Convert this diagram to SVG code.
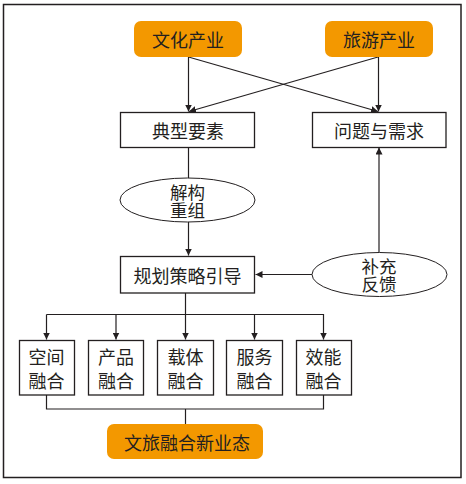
<svg xmlns="http://www.w3.org/2000/svg" width="466" height="484" viewBox="0 0 466 484">
<defs>
<style>
.frame{fill:#fff;stroke:#231f20;stroke-width:1.5}
.org{fill:#f39800;stroke:none}
.box{fill:#fff;stroke:#231f20;stroke-width:1.3}
.ell{fill:#fff;stroke:#231f20;stroke-width:1}
.t{font-family:"Noto Sans CJK SC","Noto Sans",sans-serif;font-size:18px;fill:#231f20;text-anchor:middle;dominant-baseline:central}
.te{font-size:17.5px}
.ln{fill:none;stroke:#231f20;stroke-width:1.2}
</style>
<marker id="ah" viewBox="0 0 10 10" refX="10" refY="5" markerWidth="7" markerHeight="7" markerUnits="userSpaceOnUse" orient="auto">
<path d="M0,0 L10,5 L0,10 z" fill="#231f20"/>
</marker>
</defs>
<rect x="0" y="0" width="466" height="484" fill="#fff"/>
<rect class="frame" x="3.5" y="4.5" width="457.5" height="473"/>
<g id="connectors">
<line class="ln" x1="188.5" y1="57" x2="188.5" y2="111.5" marker-end="url(#ah)"/>
<line class="ln" x1="188.5" y1="57" x2="378" y2="111.5" marker-end="url(#ah)"/>
<line class="ln" x1="378.5" y1="57" x2="378.5" y2="111.5" marker-end="url(#ah)"/>
<line class="ln" x1="378" y1="57" x2="189" y2="111.5" marker-end="url(#ah)"/>
<line class="ln" x1="188.5" y1="147" x2="188.5" y2="178"/>
<line class="ln" x1="188.5" y1="222" x2="188.5" y2="255.5" marker-end="url(#ah)"/>
<line class="ln" x1="312" y1="274.5" x2="255.5" y2="274.5" marker-end="url(#ah)"/>
<line class="ln" x1="379" y1="252.5" x2="379" y2="147.5" marker-end="url(#ah)"/>
<line class="ln" x1="185.5" y1="293" x2="185.5" y2="314.5"/>
<polyline class="ln" points="46.5,314.5 323.5,314.5 323.5,339.5" marker-end="url(#ah)"/>
<line class="ln" x1="46.5" y1="314.5" x2="46.5" y2="339.5" marker-end="url(#ah)"/>
<line class="ln" x1="116" y1="314.5" x2="116" y2="339.5" marker-end="url(#ah)"/>
<line class="ln" x1="185.5" y1="314.5" x2="185.5" y2="339.5" marker-end="url(#ah)"/>
<line class="ln" x1="254.5" y1="314.5" x2="254.5" y2="339.5" marker-end="url(#ah)"/>
<polyline class="ln" points="46.5,395 46.5,409 323.5,409 323.5,395"/>
<line class="ln" x1="185.5" y1="409" x2="185.5" y2="424"/>
</g>
<g id="n-wenhua">
<rect class="org" x="134" y="21" width="108" height="36" rx="7"/>
<text class="t" x="188" y="39">文化产业</text>
</g>
<g id="n-lvyou">
<rect class="org" x="325" y="21" width="108" height="36" rx="7"/>
<text class="t" x="379" y="39">旅游产业</text>
</g>
<g id="n-dianxing">
<rect class="box" x="120.5" y="112.5" width="134" height="35"/>
<text class="t" x="188" y="130">典型要素</text>
</g>
<g id="n-wenti">
<rect class="box" x="312.5" y="112.5" width="133.5" height="35"/>
<text class="t" x="379" y="130">问题与需求</text>
</g>
<g id="n-jiegou">
<ellipse class="ell" cx="187.5" cy="200" rx="67.5" ry="22"/>
<text class="t te" x="187.5" y="191"><tspan x="187.5" y="191">解构</tspan><tspan x="187.5" y="209">重组</tspan></text>
</g>
<g id="n-guihua">
<rect class="box" x="120.5" y="256.5" width="134" height="36.5"/>
<text class="t" x="187.5" y="275">规划策略引导</text>
</g>
<g id="n-buchong">
<ellipse class="ell" cx="379.5" cy="274.5" rx="67.5" ry="22"/>
<text class="t te" x="379" y="265"><tspan x="379" y="265">补充</tspan><tspan x="379" y="283">反馈</tspan></text>
</g>
<g id="n-kongjian">
<rect class="box" x="19.5" y="340.5" width="55" height="54.5"/>
<text class="t" x="46.5" y="355.5">空间</text>
<text class="t" x="46.5" y="380">融合</text>
</g>
<g id="n-chanpin">
<rect class="box" x="88.5" y="340.5" width="55" height="54.5"/>
<text class="t" x="116" y="355.5">产品</text>
<text class="t" x="116" y="380">融合</text>
</g>
<g id="n-zaiti">
<rect class="box" x="157.5" y="340.5" width="56" height="54.5"/>
<text class="t" x="185.5" y="355.5">载体</text>
<text class="t" x="185.5" y="380">融合</text>
</g>
<g id="n-fuwu">
<rect class="box" x="226.5" y="340.5" width="56" height="54.5"/>
<text class="t" x="254.5" y="355.5">服务</text>
<text class="t" x="254.5" y="380">融合</text>
</g>
<g id="n-xiaoneng">
<rect class="box" x="296.5" y="340.5" width="55" height="54.5"/>
<text class="t" x="323.5" y="355.5">效能</text>
<text class="t" x="323.5" y="380">融合</text>
</g>
<g id="n-xinyetai">
<rect class="org" x="107" y="424" width="156" height="35" rx="7"/>
<text class="t" x="187" y="442">文旅融合新业态</text>
</g>
</svg>
